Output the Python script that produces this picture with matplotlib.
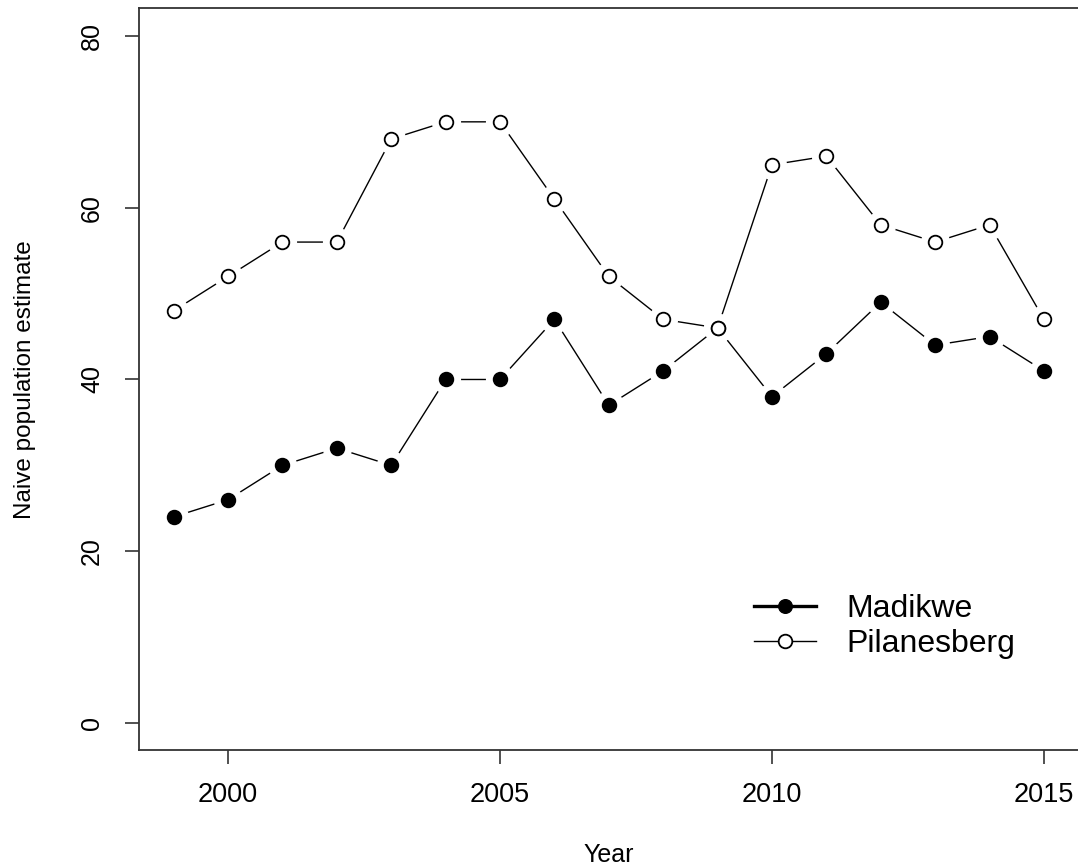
import matplotlib
matplotlib.use("Agg")
import matplotlib.pyplot as plt
from matplotlib.lines import Line2D

plt.rcParams['font.family'] = ['Liberation Sans', 'DejaVu Sans']

years = [1999, 2000, 2001, 2002, 2003, 2004, 2005, 2006, 2007,
         2008, 2009, 2010, 2011, 2012, 2013, 2014, 2015]
madikwe = [24, 26, 30, 32, 30, 40, 40, 47, 37, 41, 46, 38, 43, 49, 44, 45, 41]
pilanesberg = [48, 52, 56, 56, 68, 70, 70, 61, 52, 47, 46, 65, 66, 58, 56, 58, 47]
x_ticks = [2000, 2005, 2010, 2015]
y_ticks = [0, 20, 40, 60, 80]

fig = plt.figure(figsize=(10.78, 8.65), dpi=100)
ax = fig.add_axes([0.1288, 0.1324, 0.8719, 0.8578])

# R-style "b" plot: lines broken around each point
for vals, face in [(madikwe, 'black'), (pilanesberg, 'white')]:
    ax.plot(years, vals, color='black', lw=1.0, zorder=1)
    ax.plot(years, vals, ls='none', marker='o', ms=20, mfc='white',
            mec='white', zorder=2)
    ax.plot(years, vals, ls='none', marker='o', ms=9.8, mfc=face,
            mec='black', mew=1.3, zorder=3)

ax.set_xlim(1998.36, 2015.64)
ax.set_ylim(-3.2, 83.2)
ax.set_xticks(x_ticks)
ax.set_yticks(y_ticks)
ax.tick_params(axis='both', length=10, width=1.2, color='#333333')
ax.tick_params(axis='x', labelsize=19.5, pad=13)
ax.tick_params(axis='y', labelsize=18, labelrotation=90, pad=15)
for lab in ax.get_yticklabels():
    lab.set_va('center')
for s in ax.spines.values():
    s.set_linewidth(1.3)
    s.set_color('#333333')

ax.set_xlabel('Year', fontsize=18, labelpad=25)
ax.set_ylabel('Naive population estimate', fontsize=17.5)
ax.yaxis.set_label_coords(-0.109, 0.5)

handles = [
    Line2D([], [], color='black', lw=2.4, marker='o', ms=9.8, mfc='black', mec='black'),
    Line2D([], [], color='black', lw=1.0, marker='o', ms=9.8, mfc='white', mec='black', mew=1.3),
]
ax.legend(handles, ['Madikwe', 'Pilanesberg'], loc='upper left',
          bbox_to_anchor=(0.6545, 0.2109), frameon=False, fontsize=23,
          handlelength=1.94, handletextpad=0.94, labelspacing=0.16,
          borderpad=0, borderaxespad=0)

fig.savefig('out.png', dpi=100)
